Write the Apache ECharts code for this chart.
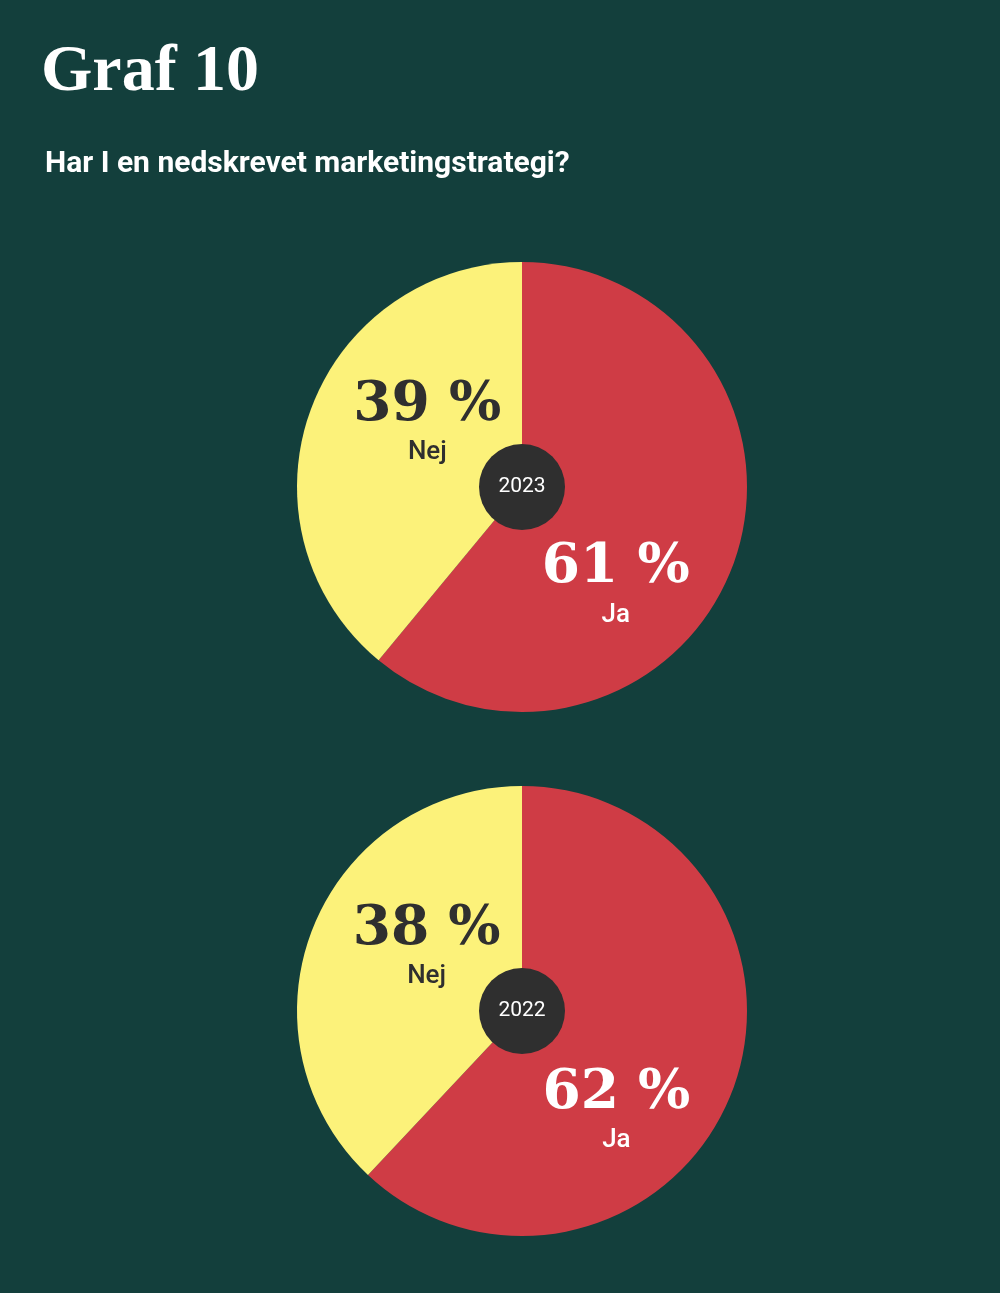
<!DOCTYPE html>
<html>
<head>
<meta charset="utf-8">
<script src="https://cdn.jsdelivr.net/npm/echarts@6/dist/echarts.min.js"></script>
<style>
html,body{margin:0;padding:0;background:#133f3c;}
#chart{width:1000px;height:1293px;}
</style>
</head>
<body>
<div id="chart"></div>
<script>
const years = ['2023', '2022'];
const categories = ['Ja', 'Nej'];
const jaValues = [61, 62];
const nejValues = [39, 38];
const titleText = 'Graf 10';
const subtitleText = 'Har I en nedskrevet marketingstrategi?';

const BG = '#133f3c';
const RED = '#cf3c45';
const YELLOW = '#fcf27a';
const DARK = '#2f2f2f';
const centers = [[522, 487], [522, 1011]];
const R = 225;
const labelShift = [
  {Ja: [-15, 60], Nej: [14, -24]},
  {Ja: [-13, 58], Nej: [12, -21]}
];
const serif = '"DejaVu Serif", "Liberation Serif", serif';
const titleSerif = '"Liberation Serif", "DejaVu Serif", serif';
const sans = 'Roboto, "Noto Sans", sans-serif';

const chart = echarts.init(document.getElementById('chart'), null, {renderer: 'canvas'});
const series = [];
years.forEach((y, i) => {
  const vals = [jaValues[i], nejValues[i]];
  series.push({
    type: 'pie',
    center: centers[i],
    radius: [0, R],
    startAngle: 90,
    clockwise: true,
    silent: true,
    animation: false,
    label: {
      show: true,
      position: 'inside',
      formatter: p => '{p|' + p.value + ' %}\n{n|' + p.name + '}',
      rich: {
        p: {fontFamily: serif, fontWeight: 'bold', fontSize: 55, lineHeight: 58, align: 'center'},
        n: {fontFamily: sans, fontWeight: 500, fontSize: 26, lineHeight: 36, align: 'center'}
      }
    },
    labelLayout: function (params) {
      const s = labelShift[i][categories[params.dataIndex]];
      return {dx: s[0], dy: s[1]};
    },
    data: categories.map((c, k) => ({
      name: c,
      value: vals[k],
      itemStyle: {color: k === 0 ? RED : YELLOW},
      label: {
        color: k === 0 ? '#ffffff' : DARK,
        rich: {
          p: {color: k === 0 ? '#ffffff' : DARK},
          n: {color: k === 0 ? '#ffffff' : DARK}
        }
      }
    }))
  });
  series.push({
    type: 'pie',
    center: centers[i],
    radius: [0, 43],
    silent: true,
    animation: false,
    z: 5,
    label: {
      show: true,
      position: 'center',
      formatter: y,
      color: '#ffffff',
      fontFamily: sans,
      fontSize: 21,
      padding: [6, 0, 0, 0]
    },
    data: [{name: y, value: 1, itemStyle: {color: DARK}}]
  });
});

chart.setOption({
  backgroundColor: BG,
  title: [
    {
      text: titleText, left: 36, top: 35,
      textStyle: {color: '#ffffff', fontFamily: titleSerif, fontWeight: 'bold', fontSize: 66}
    },
    {
      text: subtitleText, left: 40, top: 144,
      textStyle: {color: '#ffffff', fontFamily: sans, fontWeight: 'bold', fontSize: 30}
    }
  ],
  series: series
});
</script>
</body>
</html>
